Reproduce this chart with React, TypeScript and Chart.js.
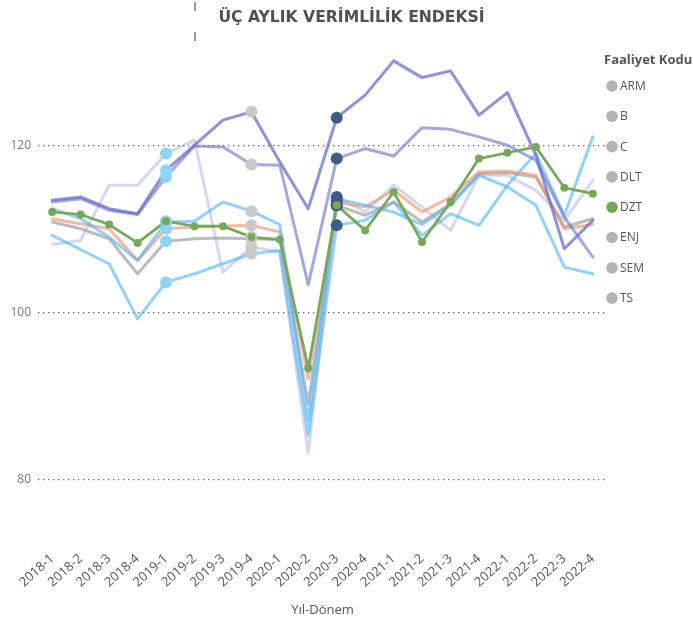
import React, { useEffect, useRef } from 'react';
import { Chart, registerables } from 'chart.js';

Chart.register(...registerables);

const categories = [
  '2018-1', '2018-2', '2018-3', '2018-4',
  '2019-1', '2019-2', '2019-3', '2019-4',
  '2020-1', '2020-2', '2020-3', '2020-4',
  '2021-1', '2021-2', '2021-3', '2021-4',
  '2022-1', '2022-2', '2022-3', '2022-4',
];

const ARM = [113.4, 113.8, 112.4, 111.8, 117.0, 120.0, 123.0, 124.0, 118.0, 112.4, 123.3, 126.0, 130.1, 128.1, 128.9, 123.6, 126.3, 118.8, 107.6, 111.0];
const B = [113.2, 113.6, 112.2, 111.7, 116.2, 119.9, 119.8, 117.7, 117.6, 103.3, 118.4, 119.6, 118.7, 122.1, 121.9, 121.0, 120.0, 118.2, 111.4, 106.6];
const C = [112.4, 111.2, 109.0, 106.2, 110.8, 110.9, 113.2, 112.1, 110.5, 87.0, 113.6, 112.8, 112.0, 110.5, 112.8, 116.4, 115.0, 112.8, 105.4, 104.6];
const DLT = [111.2, 110.6, 110.0, 106.2, 110.0, 110.2, 110.3, 110.4, 109.6, 92.0, 113.2, 112.6, 114.6, 112.0, 113.8, 116.8, 116.9, 116.4, 110.0, 110.5];
const DZT = [112.0, 111.7, 110.5, 108.3, 110.9, 110.3, 110.3, 109.0, 108.7, 93.3, 112.8, 109.8, 114.4, 108.4, 113.2, 118.4, 119.1, 119.8, 114.9, 114.2];
const ENJ = [110.8, 110.0, 108.8, 104.6, 108.5, 108.8, 108.9, 108.8, 108.7, 89.0, 112.8, 111.6, 113.2, 110.8, 113.0, 116.6, 116.7, 116.2, 110.2, 111.2];
const SEM = [109.2, 107.5, 105.8, 99.2, 103.6, 104.6, 105.8, 107.0, 107.4, 85.3, 110.4, 111.0, 113.2, 109.2, 111.8, 110.4, 115.2, 119.0, 111.6, 121.0];
const TS = [108.1, 108.6, 115.2, 115.2, 119.0, 120.6, 104.8, 107.8, 107.2, 83.1, 113.8, 112.0, 115.2, 112.6, 109.8, 116.4, 116.4, 114.6, 111.0, 115.8];

const yTickValues = [80, 100, 120];
const highlightedPeriods = ['2019-1', '2019-4', '2020-3'];
const selectedSeries = 'DZT';

const chartTitle = 'ÜÇ AYLIK VERİMLİLİK ENDEKSİ';
const legendTitle = 'Faaliyet Kodu';
const xAxisTitle = 'Yıl-Dönem';

const FONT = '"Segoe UI", "Open Sans", "Noto Sans", sans-serif';
const PURPLE = 'rgba(104,111,199,0.75)';
const PURPLE2 = 'rgba(104,111,199,0.6)';
const LAVENDER = 'rgba(150,156,215,0.4)';
const LIGHTBLUE = 'rgba(83,181,245,0.62)';
const SALMON = 'rgba(236,148,114,0.65)';
const GRAY = 'rgba(160,160,160,0.7)';
const GREEN = '#76A85B';
const MARKER_COLORS = ['#8FD3F7', '#C9C9C9', '#3E5D86'];
const LEGEND_GRAY = '#B3B3B3';

const seriesList = [
  { name: 'ARM', values: ARM, color: PURPLE, width: 3 },
  { name: 'B', values: B, color: PURPLE2, width: 3 },
  { name: 'C', values: C, color: LIGHTBLUE, width: 3 },
  { name: 'DLT', values: DLT, color: SALMON, width: 3 },
  { name: 'DZT', values: DZT, color: GREEN, width: 2.7 },
  { name: 'ENJ', values: ENJ, color: GRAY, width: 3 },
  { name: 'SEM', values: SEM, color: LIGHTBLUE, width: 3 },
  { name: 'TS', values: TS, color: LAVENDER, width: 3 },
];

const sideLegend = {
  id: 'sideLegend',
  afterDraw(chart: any) {
    const { ctx, chartArea } = chart;
    const x0 = chartArea.right - 3;
    const top = chartArea.top;
    ctx.save();
    ctx.textBaseline = 'middle';
    ctx.textAlign = 'left';
    ctx.font = `bold 13px ${FONT}`;
    ctx.fillStyle = '#555555';
    ctx.fillText(legendTitle, x0, top + 15);
    ctx.font = `12px ${FONT}`;
    seriesList.forEach((s, i) => {
      const cy = top + 41 + i * 30.3;
      ctx.beginPath();
      ctx.arc(x0 + 8, cy, 5.8, 0, Math.PI * 2);
      ctx.fillStyle = s.name === selectedSeries ? GREEN : LEGEND_GRAY;
      ctx.fill();
      ctx.fillStyle = '#555555';
      ctx.fillText(s.name, x0 + 16, cy + 0.5);
    });
    ctx.restore();
  },
};

export default function App() {
  const canvasRef = useRef<HTMLCanvasElement | null>(null);

  useEffect(() => {
    if (!canvasRef.current) return;

    const lineSets = seriesList.map((s) => ({
      label: s.name,
      data: s.values,
      borderColor: s.color,
      backgroundColor: s.color,
      borderWidth: s.width,
      borderJoinStyle: 'round',
      borderCapStyle: 'round',
      pointRadius: 0,
      tension: 0,
      fill: false,
      order: s.name === selectedSeries ? 5 : 10,
      yAxisID: 'y',
    }));

    const markerSets = seriesList.map((s) => ({
      label: s.name + ' (nokta)',
      data: s.values,
      showLine: false,
      borderWidth: 0,
      pointBorderWidth: 0,
      pointRadius: categories.map((c) => (highlightedPeriods.includes(c) ? 6 : 0)),
      pointBackgroundColor: categories.map((c) => {
        const k = highlightedPeriods.indexOf(c);
        return k >= 0 ? MARKER_COLORS[k] : 'rgba(0,0,0,0)';
      }),
      order: 2,
      yAxisID: 'y',
    }));

    const selectedPoints = {
      label: selectedSeries + ' (seçili)',
      data: DZT,
      showLine: false,
      borderWidth: 0,
      pointBorderWidth: 0,
      pointRadius: 4,
      pointBackgroundColor: GREEN,
      order: 1,
      yAxisID: 'y',
    };

    const chart = new Chart(canvasRef.current, {
      type: 'line',
      data: {
        labels: categories,
        datasets: [...lineSets, ...markerSets, selectedPoints] as any,
      },
      options: {
        responsive: false,
        animation: false,
        events: [],
        layout: { padding: { left: 10, right: 0, top: 0, bottom: 0 } },
        plugins: {
          legend: { display: false },
          tooltip: { enabled: false },
          title: {
            display: true,
            text: chartTitle,
            color: '#505050',
            font: { family: '"DejaVu Sans", Roboto, sans-serif', size: 15.6, weight: 'bold' },
            padding: { top: 9, bottom: 17.3 },
          },
        },
        scales: {
          x: {
            type: 'category',
            offset: true,
            grid: { display: false, drawTicks: false },
            border: { display: false },
            ticks: {
              autoSkip: false,
              maxRotation: 42,
              minRotation: 42,
              padding: 5,
              color: '#555555',
              font: { family: FONT, size: 13 },
            },
            title: {
              display: true,
              text: xAxisTitle,
              color: '#555555',
              font: { family: FONT, size: 13 },
              padding: { top: 0, bottom: 9 },
            },
            afterFit: (scale: any) => {
              scale.height = 81;
            },
          },
          y: {
            type: 'linear',
            position: 'left',
            min: 72,
            max: 132,
            afterBuildTicks: (scale: any) => {
              scale.ticks = yTickValues.map((v) => ({ value: v }));
            },
            grid: {
              display: true,
              drawTicks: false,
              color: 'rgba(85,85,85,0.9)',
              lineWidth: 1.3,
            },
            border: { display: false, dash: [1.4, 3.6] },
            ticks: {
              padding: 7,
              color: '#777777',
              font: { family: FONT, size: 12 },
            },
            afterFit: (scale: any) => {
              scale.width = 28;
            },
          },
          legendSpace: {
            type: 'linear',
            position: 'right',
            display: true,
            grid: { display: false, drawTicks: false },
            border: { display: false },
            ticks: { display: false },
            afterFit: (scale: any) => {
              scale.width = 86;
            },
          },
        },
      } as any,
      plugins: [sideLegend],
    });

    return () => chart.destroy();
  }, []);

  return (
    <div style={{ position: 'fixed', left: 0, top: 0, width: 693, height: 627, background: '#ffffff' }}>
      <canvas ref={canvasRef} width={693} height={627} style={{ display: 'block' }} />
      <div style={{ position: 'absolute', left: 194, top: 2, width: 2, height: 9, background: '#9a9a9a' }} />
      <div style={{ position: 'absolute', left: 194, top: 32, width: 2, height: 9, background: '#9a9a9a' }} />
    </div>
  );
}
